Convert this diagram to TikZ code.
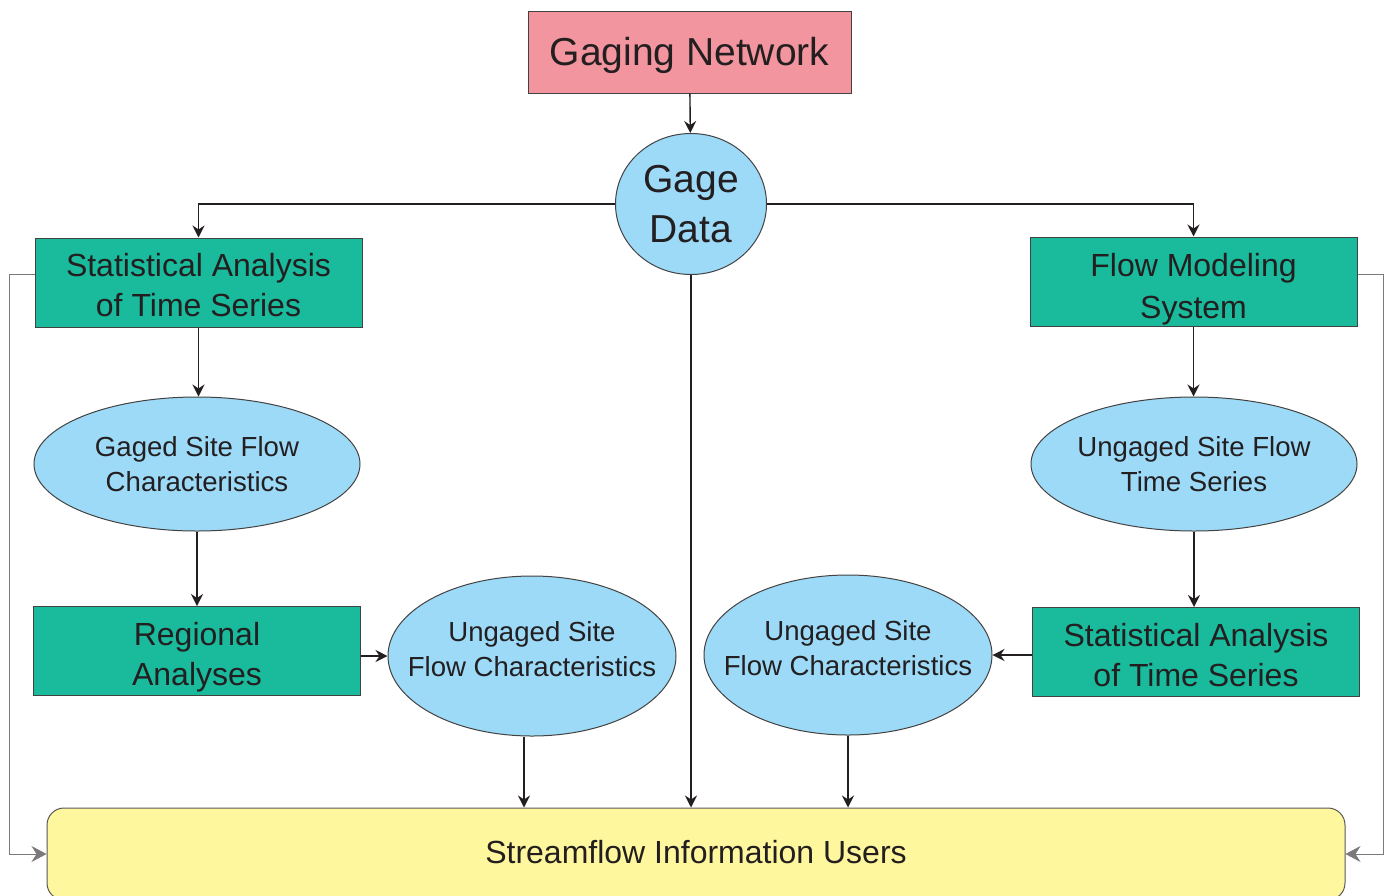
\documentclass[tikz,border=0pt]{standalone}
\usepackage{fontspec}
\setmainfont{Liberation Sans}
\usetikzlibrary{shapes.geometric,arrows.meta}
\definecolor{netpink}{HTML}{F2959F}
\definecolor{boxgreen}{HTML}{1ABA9C}
\definecolor{skyblue}{HTML}{9CDAF8}
\definecolor{useryellow}{HTML}{FFF79D}
\definecolor{ink}{HTML}{231F20}
\newcommand{\shiftline}[2]{\raisebox{#1}[\height][\depth]{#2}}
\begin{document}
\begin{tikzpicture}[>={Stealth[length=6pt,width=6pt,inset=2pt]},x=0.5pt,y=-0.5pt,
	every node/.style={text=ink,align=center,inner sep=0pt},
	box/.style={draw=ink!85,line width=0.5pt,fill=boxgreen,minimum width=163.5pt,minimum height=44.5pt,font=\fontsize{16}{20}\selectfont},
	blob/.style={draw=ink!85,line width=0.5pt,ellipse,fill=skyblue,inner xsep=-12pt,font=\fontsize{13.8}{17.2}\selectfont},
	link/.style={draw=ink,line width=0.7pt},
	side/.style={draw=ink!60,line width=0.45pt,>={Stealth[length=7.5pt,width=8pt,inset=2.5pt]}}]
	\useasboundingbox (0,0) rectangle (1386,895);
	% top of the tree
	\node[draw=ink!85,line width=0.5pt,fill=netpink,minimum width=161.5pt,minimum height=41pt,font=\fontsize{19.5}{23}\selectfont] (net) at (689.5,52) {\shiftline{-1.5pt}{Gaging Network}};
	\node[draw=ink!85,line width=0.5pt,ellipse,fill=skyblue,minimum width=75.5pt,minimum height=70.5pt,font=\fontsize{19.5}{25}\selectfont] (gage) at (691,204) {Gage\\Data};
	% left branch
	\node[box] (statL) at (198.5,282.5) {\shiftline{-1.5pt}{Statistical Analysis}\\\shiftline{-1.5pt}{of Time Series}};
	\node[blob,minimum width=163pt,minimum height=67pt] (gagedFC) at (197,464) {Gaged Site Flow\\Characteristics};
	\node[box] (regional) at (197,651) {\shiftline{-3pt}{Regional}\\\shiftline{-3pt}{Analyses}};
	\node[blob,minimum width=144pt,minimum height=80pt] (ungL) at (532,656) {\shiftline{3.5pt}{Ungaged Site}\\\shiftline{3.5pt}{Flow Characteristics}};
	% right branch
	\node[box] (flow) at (1193.5,281.5) {\shiftline{-3.5pt}{Flow Modeling}\\\shiftline{-4.5pt}{System}};
	\node[blob,minimum width=163pt,minimum height=67pt] (ungTS) at (1194,464) {Ungaged Site Flow\\Time Series};
	\node[box] (statR) at (1196,652) {\shiftline{-1.5pt}{Statistical Analysis}\\\shiftline{-1.5pt}{of Time Series}};
	\node[blob,minimum width=144pt,minimum height=80pt] (ungR) at (848,655) {\shiftline{3.5pt}{Ungaged Site}\\\shiftline{3.5pt}{Flow Characteristics}};
	% users
	\node[draw=ink!75,line width=0.5pt,fill=useryellow,rounded corners=8.5pt,minimum width=649pt,minimum height=46pt,font=\fontsize{16}{19.5}\selectfont] (users) at (696,854) {\shiftline{1pt}{Streamflow Information Users}};
	\coordinate (lout) at ([yshift=4.25pt]statL.west);
	\coordinate (rout) at ([yshift=3.75pt]flow.east);
	\coordinate (lrail) at (9,0);
	\coordinate (rrail) at (1383,0);
	% connectors
	\draw[link,->] (net) -- (gage);
	\draw[link,->] (gage.west) -| (statL.north);
	\draw[link,->] (gage.east) -| (flow.north);
	\draw[link,->] (gage.south) -- (gage.south |- users.north);
	\draw[link,->] (statL.south) -- (statL.south |- gagedFC.north);
	\draw[link,->] (gagedFC.south) -- (gagedFC.south |- regional.north);
	\draw[link,->] (regional.east |- ungL.west) -- (ungL.west);
	\draw[link,->] ([xshift=-4pt]ungL.south) -- ([xshift=-4pt]ungL.south |- users.north);
	\draw[link,->] (flow.south) -- (flow.south |- ungTS.north);
	\draw[link,->] (ungTS.south) -- (ungTS.south |- statR.north);
	\draw[link,->] (statR.west |- ungR.east) -- (ungR.east);
	\draw[link,->] (ungR.south) -- (ungR.south |- users.north);
	\draw[side,->] (lout) -- (lrail |- lout) -- (lrail |- users.west) -- (users.west);
	\draw[side,->] (rout) -- (rrail |- rout) -- (rrail |- users.east) -- (users.east);
\end{tikzpicture}
\end{document}
